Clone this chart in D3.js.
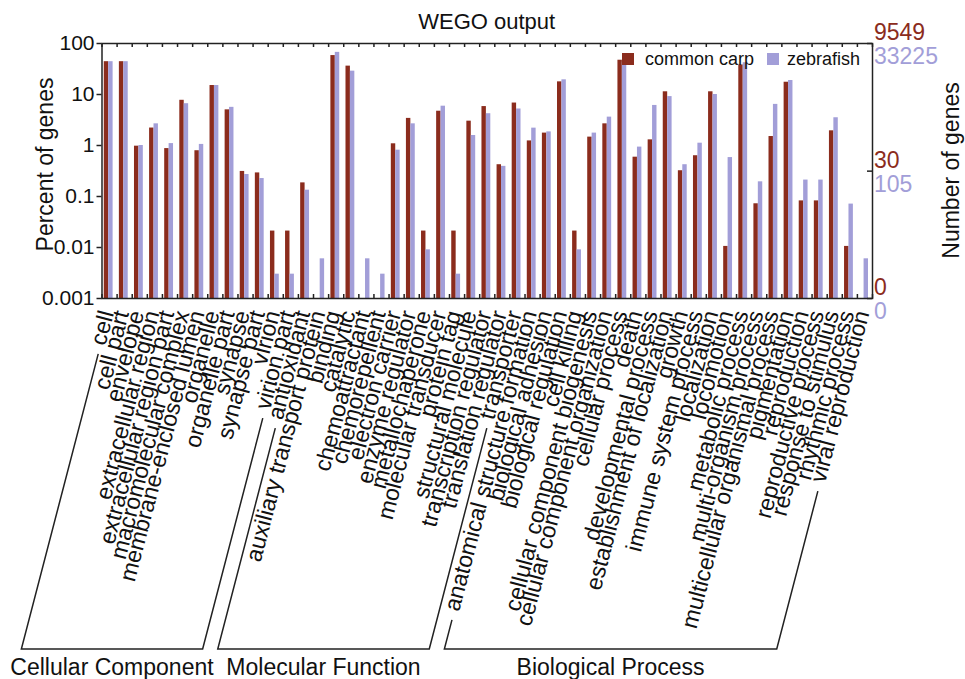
<!DOCTYPE html>
<html lang="en">
<head>
<meta charset="UTF-8">
<title>WEGO output</title>
<style>
    body { margin: 0; background: #fff; }
    text { font-family: "Liberation Sans", Arial, sans-serif; fill: #111; }
    .axis path, .axis line { stroke: #222; stroke-width: 1.5px; }
</style>
</head>
<body>
<script src="https://d3js.org/d3.v7.min.js"></script>
<script>
// categories (GO level 2 terms)
const categories = [
    'cell', 'cell part', 'envelope', 'extracellular region', 'extracellular region part',
    'macromolecular complex', 'membrane-enclosed lumen', 'organelle', 'organelle part',
    'synapse', 'synapse part', 'virion', 'virion part',
    'antioxidant', 'auxiliary transport protein', 'binding', 'catalytic', 'chemoattractant',
    'chemorepellent', 'electron carrier', 'enzyme regulator', 'metallochaperone',
    'molecular transducer', 'protein tag', 'structural molecule', 'transcription regulator',
    'translation regulator', 'transporter',
    'anatomical structure formation', 'biological adhesion', 'biological regulation',
    'cell killing', 'cellular component biogenesis', 'cellular component organization',
    'cellular process', 'death', 'developmental process', 'establishment of localization',
    'growth', 'immune system process', 'localization', 'locomotion', 'metabolic process',
    'multi-organism process', 'multicellular organismal process', 'pigmentation',
    'reproduction', 'reproductive process', 'response to stimulus', 'rhythmic process',
    'viral reproduction'
];

// percent of genes
const carpPct = [
    44, 44, 0.97, 2.2, 0.87, 7.7, 0.79, 15, 5.0, 0.31, 0.29, 0.021, 0.021,
    0.185, 0, 58, 36, 0, 0, 1.08, 3.4, 0.021, 4.7, 0.021, 3.0, 5.8, 0.42, 6.8,
    1.23, 1.75, 17.7, 0.021, 1.46, 2.66, 47, 0.59, 1.29, 11.3, 0.32, 0.63, 11.3,
    0.0105, 38, 0.072, 1.5, 17.4, 0.082, 0.082, 1.94, 0.0105, 0
];
const zebraPct = [
    44, 44, 1.0, 2.66, 1.09, 6.6, 1.05, 15, 5.6, 0.27, 0.225, 0.003, 0.003,
    0.133, 0.006, 67, 28.7, 0.006, 0.003, 0.81, 2.66, 0.009, 5.9, 0.003, 1.57, 4.2, 0.39, 5.2,
    2.19, 1.85, 19.4, 0.009, 1.75, 3.6, 42, 0.93, 6.1, 9.1, 0.42, 1.11, 10.0,
    0.58, 42, 0.194, 6.4, 18.8, 0.21, 0.21, 3.5, 0.071, 0.006
];

const seriesNames = ['common carp', 'zebrafish'];
const seriesColors = ['#8b2c1d', '#a29ed8'];

const groupNames = ['Cellular Component', 'Molecular Function', 'Biological Process'];
const groupSizes = [13, 15, 23];

const leftTicks = [100, 10, 1, 0.1, 0.01, 0.001];
const leftTickLabels = ['100', '10', '1', '0.1', '0.01', '0.001'];

// right axis: number of genes
const carpTotal = 9549, zebraTotal = 33225;
const carpCounts = [9549, 30, 0];
const zebraCounts = [33225, 105, 0];

const W = 965, H = 679;
const plotL = 101.5, plotR = 872, plotT = 43, plotB = 298;
const labelY = 313, bracketY = 649, ang = 75.4;

const svg = d3.select('body').append('svg')
    .attr('width', W).attr('height', H);

const x = d3.scaleBand().domain(categories).range([plotL, plotR]);
const bw = x.bandwidth();
const y = d3.scaleLog().domain([0.001, 100]).range([plotB, plotT]).clamp(true);
const sub = d3.scaleBand().domain(seriesNames).range([bw * 0.15, bw * 0.735]);

// bars
const series = [carpPct, zebraPct];
series.forEach((vals, si) => {
    svg.append('g').selectAll('rect')
        .data(categories.map((c, i) => ({ c, v: vals[i] })).filter(d => d.v > 0))
        .enter().append('rect')
        .attr('x', d => x(d.c) + sub(seriesNames[si]))
        .attr('y', d => y(d.v))
        .attr('width', sub.bandwidth())
        .attr('height', d => plotB - y(d.v))
        .attr('fill', seriesColors[si]);
});

// frame and axes
const idx = d3.scaleLinear().domain([0, categories.length]).range([plotL, plotR]);
svg.append('g').attr('class', 'axis')
    .attr('transform', `translate(0,${plotT})`)
    .call(d3.axisTop(idx).tickValues(d3.range(1, categories.length)).tickSize(-4).tickFormat(''));
svg.append('g').attr('class', 'axis')
    .attr('transform', `translate(0,${plotB})`)
    .call(d3.axisBottom(idx).tickValues(d3.range(1, categories.length)).tickSize(-4).tickFormat(''));

const yAxis = svg.append('g').attr('class', 'axis')
    .attr('transform', `translate(${plotL},0)`)
    .call(d3.axisLeft(y).tickValues(leftTicks).tickSize(5).tickSizeOuter(0)
        .tickFormat((d, i) => leftTickLabels[i]));
yAxis.selectAll('text').style('font-size', '21px').attr('x', -7).attr('fill', '#111');

svg.append('g').attr('class', 'axis')
    .attr('transform', `translate(${plotR},0)`)
    .call(d3.axisRight(y).tickValues(carpCounts.map(n => n / carpTotal * 100 || 0.001))
        .tickSize(-5).tickSizeOuter(0).tickFormat(''));

// right labels
const rightG = svg.append('g').style('font-size', '23px');
carpCounts.forEach(n => {
    rightG.append('text')
        .attr('x', plotR + 2).attr('y', y(n / carpTotal * 100 || 0.001) - 3)
        .style('fill', seriesColors[0])
        .text(n);
});
zebraCounts.forEach(n => {
    rightG.append('text')
        .attr('x', plotR + 2).attr('y', y(n / zebraTotal * 100 || 0.001) + 21)
        .style('fill', seriesColors[1])
        .text(n);
});

// title and axis titles
svg.append('text').attr('x', (plotL + plotR) / 2).attr('y', 29)
    .attr('text-anchor', 'middle').style('font-size', '22px').text('WEGO output');
svg.append('text').attr('transform', `translate(53,${(plotT + plotB) / 2 - 6}) rotate(-90)`)
    .attr('text-anchor', 'middle').style('font-size', '23px').text('Percent of genes');
svg.append('text').attr('transform', `translate(959,${(plotT + plotB) / 2}) rotate(-90)`)
    .attr('text-anchor', 'middle').style('font-size', '23px').text('Number of genes');

// legend
const legend = svg.append('g');
[[622, 645], [767, 787]].forEach((p, i) => {
    legend.append('rect').attr('x', p[0]).attr('y', 53).attr('width', 12).attr('height', 12)
        .attr('fill', seriesColors[i]);
    legend.append('text').attr('x', p[1]).attr('y', 65).style('font-size', '18px')
        .text(seriesNames[i]);
});

// category labels
const labelX = c => x(c) + bw * 0.83;
const labels = svg.append('g').selectAll('text')
    .data(categories).enter().append('text')
    .attr('transform', c => `translate(${labelX(c)},${labelY}) rotate(${-ang})`)
    .attr('text-anchor', 'end')
    .style('font-size', '23px')
    .text(c => c);

const lens = {};
labels.each(function (c) { lens[c] = this.getComputedTextLength(); });

// group brackets
const a = ang * Math.PI / 180;
const dir = [-Math.cos(a), Math.sin(a)];
const up = [-Math.sin(a), -Math.cos(a)];
const gap = 9, off = 5;
function startOf(c) {
    const t = lens[c] + gap;
    return [labelX(c) + dir[0] * t + up[0] * off, labelY + dir[1] * t + up[1] * off];
}
function downTo(p) {
    const t = (bracketY - p[1]) / dir[1];
    return [p[0] + dir[0] * t, bracketY];
}
let k = 0;
groupNames.forEach((g, gi) => {
    const first = categories[k], last = categories[k + groupSizes[gi] - 1];
    k += groupSizes[gi];
    const s1 = startOf(first), s2 = startOf(last);
    const b1 = downTo(s1), b2 = downTo(s2);
    svg.append('path')
        .attr('d', d3.line()([s1, b1, b2, s2]))
        .attr('fill', 'none').attr('stroke', '#222').attr('stroke-width', 1.5);
    svg.append('text').attr('x', (b1[0] + b2[0]) / 2).attr('y', 675)
        .attr('text-anchor', 'middle').style('font-size', '23px').text(g);
});
</script>
</body>
</html>
